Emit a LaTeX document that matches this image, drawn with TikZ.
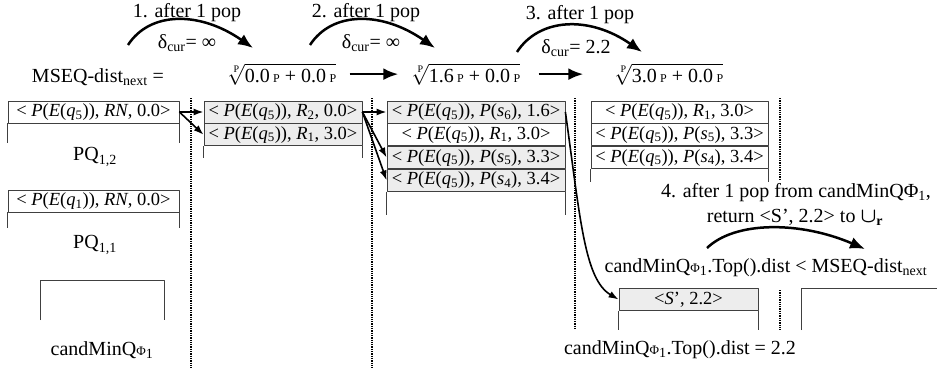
\documentclass[tikz,border=0pt]{standalone}
\usepackage{amsmath}
\usepackage{fontspec}
\setmainfont{Liberation Serif}
\usetikzlibrary{arrows.meta}

\newcommand{\PEq}[1]{\textit{P}(\textit{E}(\textit{q}\textsubscript{#1}))}
\newcommand{\smallP}{{\fontsize{12}{12}\selectfont P}}
\newcommand{\radix}[2]{$\sqrt[\hbox{\fontsize{10}{10}\selectfont P}]{\hbox{#1\,\smallP{} + #2\,\smallP}}$}
\newcommand{\candQ}{candMinQ{\fontsize{13}{13}\selectfont Φ}\textsubscript{1}}

\begin{document}
\begin{tikzpicture}[x=1pt,y=-1pt,line join=round,
  big/.style={font=\fontsize{20}{21}\selectfont},
  qrow/.style={draw=black!75,line width=.8pt,minimum height=22pt,inner sep=0pt,
    font=\fontsize{18.5}{20}\selectfont},
  shd/.style={fill=black!7},
  wall/.style={draw=black!75,line width=.8pt},
  sep/.style={densely dotted,line width=1.3pt},
  hop/.style={line width=2.5pt,-{Latex[length=15pt,width=12pt]}},
  link/.style={line width=1.6pt,-{Latex[length=10pt,width=7pt]}}]
  \useasboundingbox (0,0) rectangle (937,369);

  % steps along the top
  \foreach \n/\xa/\ya/\xb/\yb in {1/128/45/253/48,2/310/45/435/48,3/517/52/642/52}{
    \coordinate (hs\n) at (\xa,\ya);
    \coordinate (he\n) at (\xb,\yb);
    \draw[hop] (hs\n) .. controls +(22,-34) and +(-53,-37) .. (he\n);
  }
  \node[big] (pop1) at (187,13) {1. after 1 pop};
  \node[big] (pop2) at (366,13) {2. after 1 pop};
  \node[big] (pop3) at (580,15) {3. after 1 pop};
  \node[big] (dcur1) at (187,43) {δ\textsubscript{cur}= ∞};
  \node[big] (dcur2) at (371,43) {δ\textsubscript{cur}= ∞};
  \node[big] (dcur3) at (576,48) {δ\textsubscript{cur}= 2.2};

  \node[big,anchor=base] (mseq) at (98,82) {MSEQ-dist\textsubscript{next} =};
  \node[big,anchor=base] (rad1) at (282,82) {\radix{0.0}{0.0}};
  \node[big,anchor=base] (rad2) at (466,82) {\radix{1.6}{0.0}};
  \node[big,anchor=base] (rad3) at (669,82) {\radix{3.0}{0.0}};
  \draw[hop] ([xshift=10pt]rad1.east) -- ([xshift=-10pt]rad2.west);
  \draw[hop] ([xshift=15pt]rad2.east) -- ([xshift=-28pt]rad3.west);

  % separators
  \foreach \x/\ya/\yb in {191/98/369,372/98/369,575/98/330,780/98/180,780/290/330}
    \draw[sep] (\x,\ya) -- (\x,\yb);

  % PQ_{1,2}, PQ_{1,1} and candMinQ
  \node[qrow,minimum width=171pt] (r12) at (93.5,112) {< \PEq{5}, \textit{RN}, 0.0>};
  \draw[wall] (r12.south west) -- ++(0,20) (r12.south east) -- ++(0,20);
  \node[big] (pq12) at (95,157) {PQ\textsubscript{1,2}};
  \node[qrow,minimum width=171pt] (r11) at (93.5,201) {< \PEq{1}, \textit{RN}, 0.0>};
  \draw[wall] (r11.south west) -- ++(0,16) (r11.south east) -- ++(0,16);
  \node[big] (pq11) at (95,245) {PQ\textsubscript{1,1}};
  \draw[wall] (40,320) -- (40,280) -- (164,280) -- (164,320);
  \node[big] (cq) at (102,350) {\candQ};

  % second column
  \node[qrow,shd,minimum width=158pt] (s1) at (283,112) {< \PEq{5}, \textit{R}\textsubscript{2}, 0.0>};
  \node[qrow,shd,minimum width=158pt,anchor=north] (s2) at (s1.south) {< \PEq{5}, \textit{R}\textsubscript{1}, 3.0>};
  \draw[wall] (s2.south west) -- ++(0,12) (s2.south east) -- ++(0,12);

  % third column
  \node[qrow,shd,minimum width=178pt] (t1) at (476,112) {< \PEq{5}, \textit{P}(\textit{s}\textsubscript{6}), 1.6>};
  \node[qrow,minimum width=178pt,anchor=north] (t2) at (t1.south) {< \PEq{5}, \textit{R}\textsubscript{1}, 3.0>};
  \node[qrow,shd,minimum width=178pt,anchor=north] (t3) at (t2.south) {< \PEq{5}, \textit{P}(\textit{s}\textsubscript{5}), 3.3>};
  \node[qrow,shd,minimum width=178pt,anchor=north] (t4) at (t3.south) {< \PEq{5}, \textit{P}(\textit{s}\textsubscript{4}), 3.4>};
  \draw[wall] (t4.south west) -- ++(0,23) (t4.south east) -- ++(0,23);

  % fourth column
  \node[qrow,minimum width=177pt] (u1) at (679.5,112) {< \PEq{5}, \textit{R}\textsubscript{1}, 3.0>};
  \node[qrow,minimum width=177pt,anchor=north] (u2) at (u1.south) {< \PEq{5}, \textit{P}(\textit{s}\textsubscript{5}), 3.3>};
  \node[qrow,minimum width=177pt,anchor=north] (u3) at (u2.south) {< \PEq{5}, \textit{P}(\textit{s}\textsubscript{4}), 3.4>};
  \draw[wall] (u3.south west) -- ++(0,13) (u3.south east) -- ++(0,13);

  % pops between queues
  \draw[link] (r12.east) -- (s1.west);
  \draw[link] (r12.east) -- (s2.west);
  \draw[link] (s1.east) -- (t1.west);
  \draw[link] (s1.east) -- (t3.west);
  \draw[link] (s1.east) -- (t4.west);

  % result
  \node[qrow,shd,minimum width=139pt] (cand) at (688.5,299.5) {<\textit{S}’, 2.2>};
  \draw[wall] (cand.south west) -- ++(0,19) (cand.south east) -- ++(0,19);
  \draw[wall] (801,330) -- (801,288) -- (937,288);
  \draw[link] (t1.east) .. controls +(15,108) and +(-34,-20) .. (cand.west);

  \node[big,anchor=base,inner sep=0pt] (step4) at (796,197)
    {4. after 1 pop from candMinQΦ\textsubscript{1},};
  \node[big,anchor=base,inner sep=0pt] (ret) at (795,222)
    {return <S’, 2.2> to $\boldsymbol{\cup}$\textsubscript{\textbf{r}}};
  \coordinate (hs4) at (707,248);
  \coordinate (he4) at (865,249);
  \draw[hop] (hs4) .. controls +(28,-27) and +(-65,-28) .. (he4);
  \node[big,anchor=base] (lt) at (766,272) {\candQ.Top().dist < MSEQ-dist\textsubscript{next}};
  \node[big] (top) at (680,350) {\candQ.Top().dist = 2.2};
\end{tikzpicture}
\end{document}
